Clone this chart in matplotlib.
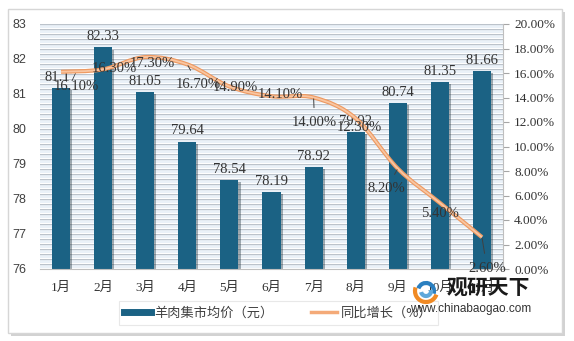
import numpy as np
import matplotlib
matplotlib.use("Agg")
import matplotlib.pyplot as plt
import matplotlib.patheffects as pe
from matplotlib.path import Path
from matplotlib.patches import PathPatch, Rectangle, Arc
from matplotlib.lines import Line2D

plt.rcParams['font.family'] = ['Liberation Serif', 'Noto Sans CJK SC', 'DejaVu Sans']

months = ['1月', '2月', '3月', '4月', '5月', '6月', '7月', '8月', '9月', '10月', '11月']
price = [81.17, 82.33, 81.05, 79.64, 78.54, 78.19, 78.92, 79.92, 80.74, 81.35, 81.66]
growth = [16.10, 16.30, 17.30, 16.70, 14.90, 14.10, 14.00, 12.30, 8.20, 5.40, 2.60]
# label offsets (pixels) for the growth labels, and which ones get a leader line
pct_offsets = [(15, -15), (11, 1), (7, -6), (11, -20), (6, -1), (9, 2),
               (1, -25), (4, -9), (-11, -20), (0, -11), (5, -31)]
pct_leader = [False, False, False, True, False, False, True, False, True, False, True]

bar_color = '#1B6284'
line_color = '#F4AA78'

fig = plt.figure(figsize=(5.74, 3.41), dpi=100)
fig.patch.set_facecolor('white')

# outer frame with soft shadow
frame = Rectangle((8 / 574, 8 / 341), 554 / 574, 324 / 341, transform=fig.transFigure,
                  facecolor='white', edgecolor='#D6D6D6', lw=1.0, zorder=-10,
                  path_effects=[pe.SimplePatchShadow(offset=(2, -2), alpha=0.25), pe.Normal()])
fig.patches.append(frame)

ax = fig.add_axes([40 / 574, 1 - 269 / 341, 463 / 574, 245 / 341])
ax.set_facecolor('#EAF1F8')
x = np.arange(len(months))

ax.set_xlim(-0.5, len(months) - 0.5)
ax.set_ylim(76, 83)
ax.set_yticks(range(76, 84))
ax.tick_params(axis='y', length=0, labelsize=9, pad=10)
for lab in ax.get_yticklabels():
    lab.set_family(['Liberation Sans', 'DejaVu Sans'])
    lab.set_color('#404040')
ax.set_xticks(x)
ax.set_xticklabels(months, fontsize=9.5, color='#333333')
ax.tick_params(axis='x', length=0, pad=9)
for s in ['top', 'left', 'right']:
    ax.spines[s].set_visible(False)
ax.spines['bottom'].set_color('#BFBFBF')

# dense horizontal stripes
for yv in np.linspace(76, 83, 50):
    ax.axhline(yv, color='#BCC3CB', lw=0.9, zorder=0.5)
    ax.axhline(yv + 0.035, color='white', lw=0.7, zorder=0.5)

bars = ax.bar(x, price, width=0.43, color=bar_color, zorder=2,
              path_effects=[pe.SimplePatchShadow(offset=(1.5, -1.5), alpha=0.35), pe.Normal()])
for xi, v in zip(x, price):
    ax.annotate(f'{v:.2f}', (xi, v), xytext=(0, 3), textcoords='offset points',
                ha='center', va='bottom', fontsize=10.5, color='#333333', zorder=6)

ax2 = ax.twinx()
ax2.set_ylim(0, 20)
ax2.set_yticks(np.arange(0, 21, 2))
ax2.set_yticklabels([f'{v:.2f}%' for v in np.arange(0, 21, 2)])
ax2.tick_params(axis='y', length=4, color='#A6A6A6', labelsize=9.5, labelcolor='#333333', pad=4)
for s in ['top', 'left', 'bottom']:
    ax2.spines[s].set_visible(False)
ax2.spines['right'].set_color('#BFBFBF')

# smoothed growth line (Catmull-Rom through the points, drawn as bezier)
pts = np.column_stack([x, growth]).astype(float)
ext = np.vstack([pts[0], pts, pts[-1]])
verts = [tuple(pts[0])]
codes = [Path.MOVETO]
for i in range(len(pts) - 1):
    p0, p1, p2, p3 = ext[i], ext[i + 1], ext[i + 2], ext[i + 3]
    c1 = p1 + (p2 - p0) / 6
    c2 = p2 - (p3 - p1) / 6
    verts += [tuple(c1), tuple(c2), tuple(p2)]
    codes += [Path.CURVE4] * 3
path = Path(verts, codes)
ax2.add_patch(PathPatch(path, facecolor='none', edgecolor='#EE9A62', lw=3.0, zorder=3))
ax2.add_patch(PathPatch(path, facecolor='none', edgecolor='#F8C6A2', lw=1.3, zorder=3))

for xi, g, off, lead in zip(x, growth, pct_offsets, pct_leader):
    kw = {}
    if lead:
        kw['arrowprops'] = dict(arrowstyle='-', color='#404040', lw=0.7, shrinkA=4, shrinkB=1)
    ax2.annotate(f'{g:.2f}%', (xi, g), xytext=off, textcoords='offset pixels',
                 ha='center', va='center', fontsize=10.5, color='#333333', zorder=7, **kw)

# legend
handles = [Line2D([], [], color=bar_color, lw=5),
           Line2D([], [], color=line_color, lw=2.5)]
leg = fig.legend(handles, ['羊肉集市均价（元）', '同比增长（%）'], loc='center',
                 bbox_to_anchor=(0.485, 0.082), ncol=2, frameon=True, fancybox=False,
                 handlelength=2.0, columnspacing=2.8, handletextpad=0.3,
                 prop={'family': ['Noto Sans CJK SC', 'DejaVu Sans'], 'size': 9.5})
leg.get_frame().set_edgecolor('#E3E3E3')
leg.get_frame().set_linewidth(0.8)
for t in leg.get_texts():
    t.set_color('#404040')

# watermark: logo arcs + text
for w, col, th1, th2 in [(22, '#F08A24', 150, 330), (16, '#2A7FC0', 330, 150), (10, '#5FA8DA', 200, 20)]:
    fig.patches.append(Arc((426 / 574, 1 - 291 / 341), w / 574, w / 341, theta1=th1, theta2=th2,
                           transform=fig.transFigure, color=col, lw=3, zorder=10))
fig.text(447 / 574, 1 - 288 / 341, '观研天下', fontsize=15, fontweight='bold', color='#1A1A1A',
         family=['Noto Sans CJK SC', 'DejaVu Sans'], va='center', ha='left', zorder=10)
fig.text(410 / 574, 1 - 309 / 341, 'www.chinabaogao.com', fontsize=8.5, color='#333333',
         family=['Liberation Sans', 'DejaVu Sans'], va='center', ha='left', zorder=10)

fig.savefig('out.png', dpi=100)
